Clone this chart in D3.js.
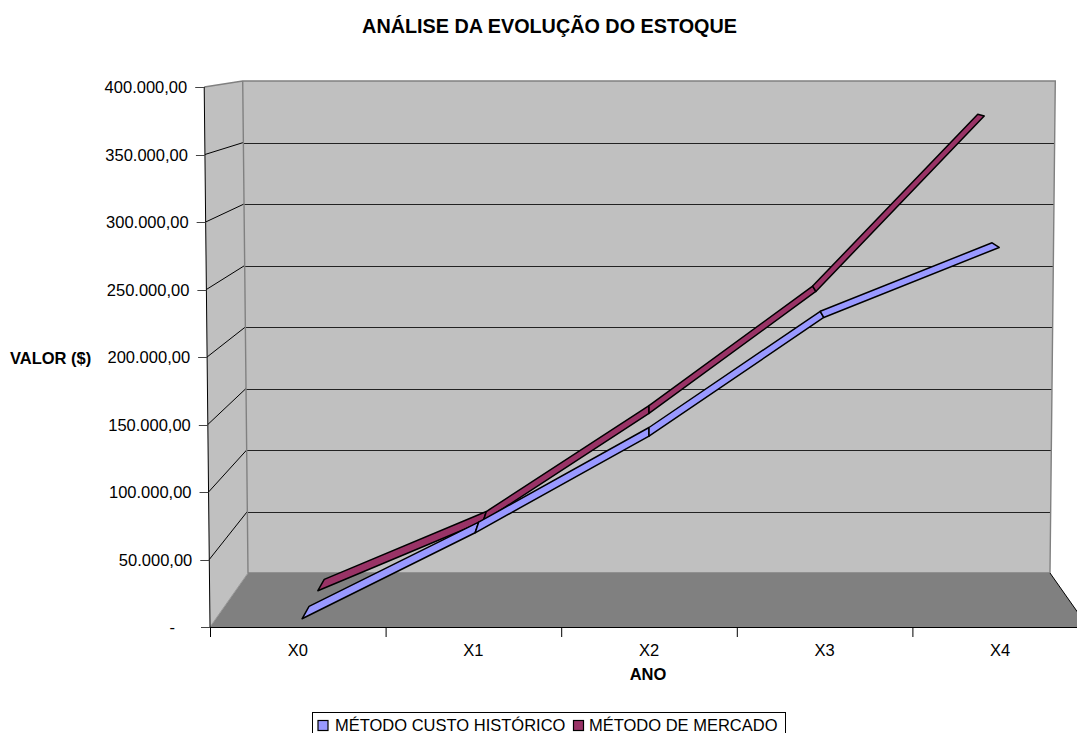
<!DOCTYPE html>
<html><head><meta charset="utf-8">
<script src="https://cdn.jsdelivr.net/npm/d3@7"></script>
<style>html,body{margin:0;padding:0;background:#fff;overflow:hidden}svg{display:block}text{font-family:"Liberation Sans",Arial,sans-serif;fill:#000}</style>
</head><body><div id="c"></div>
<script>
const categories = ["X0","X1","X2","X3","X4"];
const yTicks = [0,50000,100000,150000,200000,250000,300000,350000,400000];
const yTickLabels = ["-","50.000,00","100.000,00","150.000,00","200.000,00","250.000,00","300.000,00","350.000,00","400.000,00"];
const seriesNames = ["MÉTODO CUSTO HISTÓRICO","MÉTODO DE MERCADO"];
const custoHistorico = [500,65000,137500,226500,279000];
const metodoMercado = [500,55000,140000,236000,374000];

const W=1077,H=733;
const svg=d3.select("#c").append("svg").attr("width",W).attr("height",H);

// Projection: a front plane and a back plane, joined by a depth fraction
const yFront=d3.scaleLinear().domain([0,400000]).range([627,87]);
const yBack=d3.scaleLinear().domain([0,400000]).range([573,81]);
const xFront=d3.scaleBand().domain(categories).range([210,1088]);
const xBack=d3.scaleBand().domain(categories).range([248,1050]);
const spread=d3.scaleLinear().domain([0,400000]).range([1,1.0132]);
const cx=649;
const py=(v,d)=>yFront(v)*(1-d)+yBack(v)*d;
const pxRaw=(x,v)=>cx+(x-cx)*spread(v);
const edgeX=(v,d)=>pxRaw(210*(1-d)+248*d,v);
const edgeXR=(v,d)=>pxRaw(1088*(1-d)+1050*d,v);
const px=(cat,v,d)=>{
  const f=xFront(cat)+xFront.bandwidth()/2, b=xBack(cat)+xBack.bandwidth()/2;
  return pxRaw(f*(1-d)+b*d,v);
};
const poly=pts=>pts.map(p=>p.join(",")).join(" ");
const vMax=400000;

// walls
svg.append("polygon").attr("fill","#c0c0c0")
  .attr("points",poly([[edgeX(vMax,1),py(vMax,1)],[edgeXR(vMax,1),py(vMax,1)],[edgeXR(0,1),py(0,1)],[edgeX(0,1),py(0,1)]]));
svg.append("polygon").attr("fill","#c0c0c0")
  .attr("points",poly([[edgeX(vMax,0),py(vMax,0)],[edgeX(vMax,1),py(vMax,1)],[edgeX(0,1),py(0,1)],[edgeX(0,0),py(0,0)]]));
// floor
svg.append("polygon").attr("fill","#808080")
  .attr("points",poly([[edgeX(0,0),py(0,0)],[edgeX(0,1),py(0,1)],[edgeXR(0,1),py(0,1)],[edgeXR(0,0),py(0,0)]]));
// gridlines
const grid=svg.append("g").attr("fill","none");
yTicks.slice(1,-1).forEach(v=>{
  grid.append("polyline").attr("stroke","#000").attr("stroke-width",1)
    .attr("points",poly([[edgeX(v,0),py(v,0)],[edgeX(v,1),py(v,1)]]));
  grid.append("line").attr("stroke","#222").attr("stroke-width",1)
    .attr("x1",edgeX(v,1)).attr("x2",edgeXR(v,1)).attr("y1",Math.round(py(v,1))+.5).attr("y2",Math.round(py(v,1))+.5);
});
// wall edges
const edge=svg.append("g").attr("fill","none").attr("stroke","#808080").attr("stroke-width",1.4);
edge.append("polyline").attr("points",poly([[edgeX(vMax,0),py(vMax,0)],[edgeX(vMax,1),py(vMax,1)],[edgeXR(vMax,1),py(vMax,1)],[edgeXR(0,1),py(0,1)],[edgeX(0,1),py(0,1)],[edgeX(vMax,1),py(vMax,1)]]));
edge.append("line").attr("x1",edgeX(0,1)).attr("y1",py(0,1)).attr("x2",edgeX(0,0)).attr("y2",py(0,0)).attr("stroke","#999").attr("stroke-width",1);
svg.append("line").attr("x1",edgeXR(0,1)).attr("y1",py(0,1)).attr("x2",edgeXR(0,0)).attr("y2",py(0,0)).attr("stroke","#000").attr("stroke-width",1);

// axes
const ax=svg.append("g").attr("stroke","#000").attr("stroke-width",1);
ax.append("line").attr("x1",edgeX(vMax,0)).attr("y1",py(vMax,0)).attr("x2",edgeX(0,0)).attr("y2",py(0,0));
ax.append("line").attr("x1",edgeX(0,0)).attr("y1",py(0,0)+.5).attr("x2",edgeXR(0,0)).attr("y2",py(0,0)+.5);
yTicks.forEach((v,i)=>{
  const x=edgeX(v,0),y=Math.round(py(v,0))+.5;
  ax.append("line").attr("x1",x-9).attr("x2",x).attr("y1",y).attr("y2",y).attr("stroke","#444");
  svg.append("text").attr("x",v===0?175:x-17).attr("y",y+5.5).attr("text-anchor","end")
    .attr("font-size",16.5).text(yTickLabels[i]);
});
categories.forEach(c=>{
  const x=xFront(c);
  ax.append("line").attr("x1",x+.5).attr("x2",x+.5).attr("y1",627).attr("y2",637);
  svg.append("text").attr("x",x+xFront.bandwidth()/2).attr("y",655.5).attr("text-anchor","middle").attr("font-size",16.5).text(c);
});

// ribbons
const colors=["#9999ff","#993366"];
const depths=[[.14,.37],[.66,.87]];
const values=[custoHistorico,metodoMercado];
[1,0].forEach(s=>{
  const vals=values[s],[d0,d1]=depths[s];
  const g=svg.append("g").attr("fill",colors[s]).attr("stroke","#000").attr("stroke-width",1.5).attr("stroke-linejoin","round");
  for(let i=0;i<vals.length-1;i++){
    const a=categories[i],b=categories[i+1],va=vals[i],vb=vals[i+1];
    g.append("polygon").attr("points",poly([
      [px(a,va,d0),py(va,d0)],[px(a,va,d1),py(va,d1)],
      [px(b,vb,d1),py(vb,d1)],[px(b,vb,d0),py(vb,d0)]]));
  }
});

// titles
svg.append("text").attr("x",549.5).attr("y",33).attr("text-anchor","middle").attr("font-size",19.8).attr("font-weight","bold").text("ANÁLISE DA EVOLUÇÃO DO ESTOQUE");
svg.append("text").attr("x",648).attr("y",679.5).attr("text-anchor","middle").attr("font-size",16.5).attr("font-weight","bold").text("ANO");
svg.append("text").attr("x",10).attr("y",364).attr("font-size",16.5).attr("font-weight","bold").text("VALOR ($)");

// legend
const leg=svg.append("g");
leg.append("rect").attr("x",312.5).attr("y",712.5).attr("width",473).attr("height",30).attr("fill","#fff").attr("stroke","#000");
[[318,335,0],[573.5,589,1]].forEach(([bx,tx,s])=>{
  leg.append("rect").attr("x",bx).attr("y",720.5).attr("width",10).attr("height",10).attr("fill",colors[s]).attr("stroke","#000").attr("stroke-width",1.2);
  leg.append("text").attr("x",tx).attr("y",731).attr("font-size",16.5).text(seriesNames[s]);
});
</script></body></html>
